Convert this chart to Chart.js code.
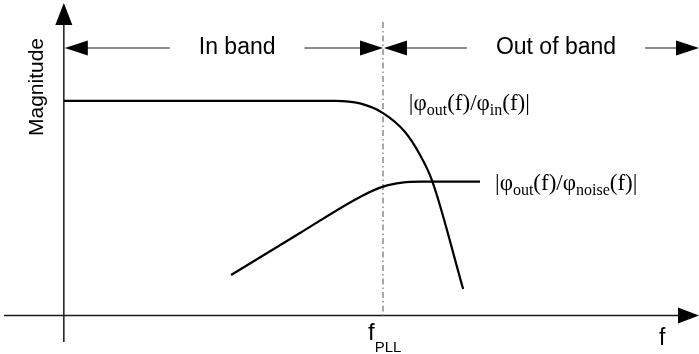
<!DOCTYPE html>
<html>
<head>
<meta charset="utf-8">
<script src="https://cdn.jsdelivr.net/npm/chart.js@4/dist/chart.umd.min.js"></script>
<style>
  html, body { margin: 0; padding: 0; background: #fff; }
  #wrap { width: 699px; height: 354px; }
</style>
</head>
<body>
<div id="wrap"><canvas id="pll"></canvas></div>
<script>
// closed-loop transfer |phi_out/phi_in| (low pass)
var inFreq = [0, 8.5, 9.28, 10.0, 10.69, 11.16, 11.54, 12.51];
var inMag  = [10, 10, 9.88, 9.43, 8.55, 7.48, 6.27, 1.23];

// noise transfer |phi_out/phi_noise| (high pass)
var noiseFreq = [5.24, 7.40, 9.28, 10.0, 10.6, 11.2, 13.04];
var noiseMag  = [1.88, 3.84, 5.52, 6.0, 6.19, 6.23, 6.23];

var fPLL = 10;
var bandNames = ['In band', 'Out of band'];
var bandCenters = [5.43, 15.42];
var axisTitles = ['Magnitude', 'f'];

var fMin = -2, fMax = 19.9, magMin = -1.8, magMax = 14.7;

function toPoints(xs, ys) {
  return xs.map(function (x, i) { return { x: x, y: ys[i] }; });
}

function arrowHead(ctx, tipX, tipY, dx, dy, len, half) {
  // dx,dy = unit direction the arrow points to
  var bx = tipX - dx * len, by = tipY - dy * len;
  ctx.beginPath();
  ctx.moveTo(tipX, tipY);
  ctx.lineTo(bx - dy * half, by + dx * half);
  ctx.lineTo(bx + dy * half, by - dx * half);
  ctx.closePath();
  ctx.fill();
}

// text with subscripts: parts = [[text, isSub], ...]
function drawRich(ctx, x, y, parts, font, subFont, drop) {
  ctx.textAlign = 'left';
  ctx.textBaseline = 'alphabetic';
  parts.forEach(function (p) {
    ctx.font = p[1] ? subFont : font;
    ctx.fillText(p[0], x, p[1] ? y + drop : y);
    x += ctx.measureText(p[0]).width;
  });
}

var diagram = {
  id: 'diagram',
  beforeDatasetsDraw: function (chart) {
    var ctx = chart.ctx;
    var xs = chart.scales.x, ys = chart.scales.y;
    var x0 = xs.getPixelForValue(0), y0 = ys.getPixelForValue(0);
    var W = chart.width, H = chart.height;
    ctx.save();
    ctx.strokeStyle = '#1a1a1a';
    ctx.fillStyle = '#000';
    ctx.lineWidth = 1.5;

    // axes
    ctx.beginPath();
    ctx.moveTo(4, y0); ctx.lineTo(W - 18, y0);
    ctx.moveTo(x0, H - 12); ctx.lineTo(x0, 22);
    ctx.stroke();
    arrowHead(ctx, W, y0, 1, 0, 21, 8);
    arrowHead(ctx, x0, 3, 0, -1, 22, 8.5);

    // f_PLL marker
    var xp = xs.getPixelForValue(fPLL);
    ctx.save();
    ctx.strokeStyle = '#7a7a7a';
    ctx.lineWidth = 1.3;
    ctx.setLineDash([6, 3, 1.5, 3]);
    ctx.beginPath();
    ctx.moveTo(xp, 22); ctx.lineTo(xp, y0);
    ctx.stroke();
    ctx.restore();

    // band arrows
    var ay = 48, gap = 29;
    ctx.font = '23px "Liberation Sans", Arial, sans-serif';
    ctx.textAlign = 'center';
    ctx.textBaseline = 'middle';
    ctx.lineWidth = 1;
    var spans = [[x0 + 1, xp], [xp + 1, W]];
    bandNames.forEach(function (name, i) {
      var cx = xs.getPixelForValue(bandCenters[i]);
      var tw = ctx.measureText(name).width;
      var l = spans[i][0], r = spans[i][1];
      ctx.fillText(name, cx, ay);
      ctx.beginPath();
      ctx.moveTo(l + 20, ay); ctx.lineTo(cx - tw / 2 - gap, ay);
      ctx.moveTo(cx + tw / 2 + gap, ay); ctx.lineTo(r - 20, ay);
      ctx.stroke();
      arrowHead(ctx, l, ay, -1, 0, 23, 7.5);
      arrowHead(ctx, r, ay, 1, 0, 23, 7.5);
    });

    // axis titles
    ctx.save();
    ctx.translate(37, 87);
    ctx.rotate(-Math.PI / 2);
    ctx.font = '21px "Liberation Sans", Arial, sans-serif';
    ctx.fillText(axisTitles[0], 0, 0);
    ctx.restore();
    ctx.font = '23px "Liberation Sans", Arial, sans-serif';
    ctx.textAlign = 'left';
    ctx.textBaseline = 'alphabetic';
    ctx.fillText(axisTitles[1], 659, 345);

    var sans = '24px "Liberation Sans", Arial, sans-serif';
    var sansSub = '15px "Liberation Sans", Arial, sans-serif';
    drawRich(ctx, xp - 15, 340, [['f', false], ['PLL', true]], sans, sansSub, 12);
    ctx.restore();
  },
  afterDatasetsDraw: function (chart) {
    var ctx = chart.ctx;
    var xs = chart.scales.x, ys = chart.scales.y;
    ctx.save();
    ctx.fillStyle = '#000';
    var serif = '23px "Liberation Serif", "Times New Roman", serif';
    var serifSub = '16px "Liberation Serif", "Times New Roman", serif';
    drawRich(ctx, xs.getPixelForValue(10.81), ys.getPixelForValue(9.55),
      [['|\u03c6', false], ['out', true], ['(f)/\u03c6', false], ['in', true], ['(f)|', false]],
      serif, serifSub, 5);
    drawRich(ctx, xs.getPixelForValue(13.51), ys.getPixelForValue(5.86),
      [['|\u03c6', false], ['out', true], ['(f)/\u03c6', false], ['noise', true], ['(f)|', false]],
      serif, serifSub, 5);
    ctx.restore();
  }
};

new Chart(document.getElementById('pll').getContext('2d'), {
  type: 'line',
  data: {
    datasets: [
      {
        label: '|phi_out/phi_in|',
        data: toPoints(inFreq, inMag),
        borderColor: '#000',
        borderWidth: 2.2,
        pointRadius: 0,
        cubicInterpolationMode: 'monotone'
      },
      {
        label: '|phi_out/phi_noise|',
        data: toPoints(noiseFreq, noiseMag),
        borderColor: '#000',
        borderWidth: 2.2,
        pointRadius: 0,
        cubicInterpolationMode: 'monotone'
      }
    ]
  },
  options: {
    responsive: true,
    maintainAspectRatio: false,
    animation: false,
    layout: { padding: 0 },
    plugins: { legend: { display: false }, tooltip: { enabled: false } },
    scales: {
      x: { type: 'linear', min: fMin, max: fMax, display: false },
      y: { type: 'linear', min: magMin, max: magMax, display: false }
    }
  },
  plugins: [diagram]
});
</script>
</body>
</html>
